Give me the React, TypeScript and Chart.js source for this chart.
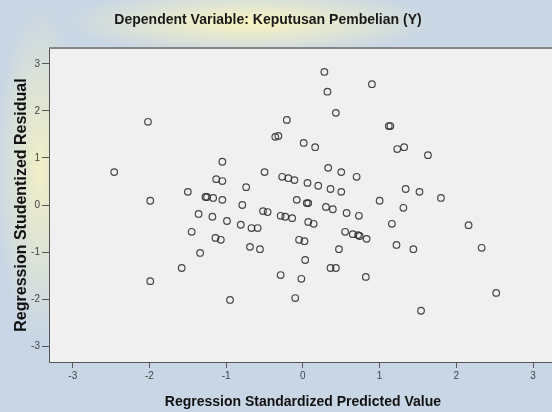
import { useEffect, useRef } from "react";
import { Chart, registerables } from "chart.js";

Chart.register(...registerables);

const titleText = "Dependent Variable: Keputusan Pembelian (Y)";
const xTitle = "Regression Standardized Predicted Value";
const yTitle = "Regression Studentized Residual";

const xTicks = [-3, -2, -1, 0, 1, 2, 3];
const yTicks = [-3, -2, -1, 0, 1, 2, 3];

const predicted = [
  -2.46, -2.02, -1.99, -1.99, -1.58, -1.5, -1.45, -1.36, -1.34, -1.27,
  -1.25, -1.17, -1.18, -1.14, -1.13, -1.07, -1.05, -1.05, -1.05, -0.99,
  -0.95, -0.81, -0.79, -0.74, -0.69, -0.67, -0.59, -0.56, -0.52, -0.46,
  -0.5, -0.36, -0.32, -0.29, -0.23, -0.14, -0.29, -0.27, -0.19, -0.11,
  -0.21, -0.1, -0.08, -0.05, 0.02, -0.02, 0.01, 0.03, 0.05, 0.07,
  0.06, 0.07, 0.14, 0.16, 0.2, 0.28, 0.32, 0.3, 0.39, 0.33,
  0.36, 0.36, 0.43, 0.43, 0.47, 0.5, 0.5, 0.55, 0.57, 0.65,
  0.72, 0.74, 0.7, 0.73, 0.83, 0.82, 0.9, 1.0, 1.12, 1.14,
  1.16, 1.22, 1.23, 1.32, 1.31, 1.34, 1.44, 1.52, 1.54, 1.63,
  1.8, 2.16, 2.33, 2.52,
];

const residuals = [
  0.7, 1.77, 0.09, -1.62, -1.34, 0.28, -0.57, -0.19, -1.02, 0.17,
  0.17, 0.15, -0.25, -0.7, 0.55, -0.74, 0.92, 0.51, 0.11, -0.34,
  -2.02, -0.42, 0.0, 0.38, -0.89, -0.49, -0.49, -0.94, -0.13, -0.15,
  0.7, 1.45, 1.47, -0.23, -0.25, -0.28, -1.49, 0.6, 0.57, 0.53,
  1.81, -1.98, 0.11, -0.74, -0.77, -1.57, 1.32, -1.17, 0.04, 0.04,
  0.47, -0.36, -0.4, 1.23, 0.41, 2.83, 2.41, -0.04, -0.09, 0.79,
  0.34, -1.34, -1.34, 1.96, -0.94, 0.7, 0.28, -0.57, -0.17, -0.62,
  -0.64, -0.66, 0.6, -0.23, -0.72, -1.53, 2.57, 0.09, 1.68, 1.68,
  -0.4, -0.85, 1.19, 1.23, -0.06, 0.34, -0.94, 0.28, -2.25, 1.06,
  0.15, -0.43, -0.91, -1.87,
];

const FONT = "'Liberation Sans', Arial, sans-serif";

export default function App() {
  const ref = useRef<HTMLCanvasElement | null>(null);

  useEffect(() => {
    document.body.style.margin = "0";
    const canvas = ref.current;
    if (!canvas) return;

    const plotFrame = {
      id: "plotFrame",
      beforeDraw(chart: any) {
        const { ctx, chartArea: a } = chart;
        ctx.save();
        ctx.fillStyle = "#f0f0f0";
        ctx.fillRect(a.left, a.top, a.right - a.left, a.bottom - a.top);
        ctx.restore();
      },
      afterDraw(chart: any) {
        const { ctx, chartArea: a } = chart;
        ctx.save();
        ctx.strokeStyle = "#555555";
        ctx.lineWidth = 1;
        ctx.beginPath();
        ctx.moveTo(a.left + 0.5, a.top);
        ctx.lineTo(a.left + 0.5, a.bottom + 0.5);
        ctx.lineTo(a.right, a.bottom + 0.5);
        ctx.stroke();
        ctx.strokeStyle = "#858585";
        ctx.lineWidth = 2;
        ctx.beginPath();
        ctx.moveTo(a.left, a.top);
        ctx.lineTo(a.right, a.top);
        ctx.stroke();
        // chart heading
        ctx.fillStyle = "#1a1a1a";
        ctx.font = `bold 14px ${FONT}`;
        ctx.textAlign = "center";
        ctx.textBaseline = "middle";
        ctx.fillText(titleText, 268, 20);
        ctx.restore();
      },
    };

    const chart = new Chart(canvas, {
      type: "scatter",
      data: {
        datasets: [
          {
            data: predicted.map((x, i) => ({ x, y: residuals[i] })),
            pointStyle: "circle",
            pointRadius: 3.3,
            pointBorderWidth: 1.2,
            borderColor: "rgba(40,40,40,0.85)",
            backgroundColor: "rgba(0,0,0,0)",
          },
        ],
      },
      options: {
        responsive: false,
        animation: false,
        devicePixelRatio: 1,
        layout: { padding: { top: 48, left: 0, right: 0, bottom: 0 } },
        plugins: {
          legend: { display: false },
          tooltip: { enabled: false },
          title: { display: false },
        },
        scales: {
          x: {
            type: "linear",
            min: -3.31,
            max: 3.31,
            afterBuildTicks: (s: any) => {
              s.ticks = xTicks.map((v) => ({ value: v }));
            },
            afterFit: (s: any) => {
              s.height = 50;
            },
            grid: {
              display: true,
              drawOnChartArea: false,
              drawTicks: true,
              tickLength: 6,
              color: "#555",
              tickColor: "#555",
            },
            border: { display: false },
            ticks: {
              color: "#444",
              font: { family: FONT, size: 10 },
              padding: 2,
              maxRotation: 0,
            },
            title: {
              display: true,
              text: xTitle,
              color: "#111",
              font: { family: FONT, size: 14, weight: "bold" },
              padding: { top: 0, bottom: 1 },
            },
          },
          y: {
            type: "linear",
            min: -3.34,
            max: 3.34,
            afterBuildTicks: (s: any) => {
              s.ticks = yTicks.map((v) => ({ value: v }));
            },
            afterFit: (s: any) => {
              s.width = 49;
            },
            grid: {
              display: true,
              drawOnChartArea: false,
              drawTicks: true,
              tickLength: 7,
              color: "#555",
              tickColor: "#555",
            },
            border: { display: false },
            ticks: {
              color: "#444",
              font: { family: FONT, size: 10 },
              padding: 2,
            },
            title: {
              display: true,
              text: yTitle,
              color: "#111",
              font: { family: FONT, size: 16, weight: "bold" },
              padding: { top: 12, bottom: 0 },
            },
          },
        },
      },
      plugins: [plotFrame],
    });

    return () => chart.destroy();
  }, []);

  return (
    <div
      style={{
        position: "relative",
        width: 552,
        height: 412,
        overflow: "hidden",
        backgroundColor: "#c8d6e5",
        backgroundImage:
          "radial-gradient(ellipse 190px 34px at 250px 22px, rgba(252,246,190,0.95), rgba(252,246,190,0)), radial-gradient(ellipse 45px 170px at 40px 170px, rgba(252,246,190,0.8), rgba(252,246,190,0))",
      }}
    >
      <canvas ref={ref} width={562} height={412} style={{ display: "block", width: 562, height: 412 }} />
    </div>
  );
}
